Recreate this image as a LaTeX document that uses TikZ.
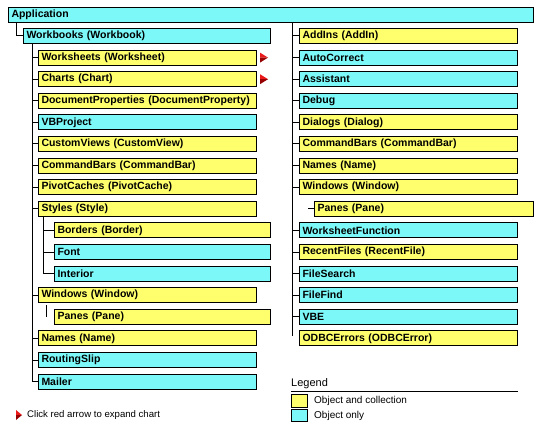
\documentclass[tikz,border=0pt]{standalone}
\usepackage{fontspec}
\setmainfont{Liberation Sans}
\definecolor{yel}{RGB}{255,255,110}
\definecolor{cya}{RGB}{125,248,248}
\definecolor{arrR}{RGB}{235,25,25}
\definecolor{arrD}{RGB}{150,0,0}
\begin{document}
\begin{tikzpicture}[x=1pt,y=-1pt,
  box/.style={draw=black, line width=1pt, anchor=north west, minimum height=15pt,
    inner xsep=3pt, inner ysep=0pt, align=left,
    font=\fontsize{10.5}{12}\selectfont\bfseries},
  yb/.style={box, fill=yel},
  cb/.style={box, fill=cya},
  wL/.style={text width=212pt},
  wS/.style={text width=210pt},
  wR/.style={text width=212pt},
  wRP/.style={text width=213pt},
  conn/.style={draw=black, line width=1pt},
  txt/.style={anchor=west, inner sep=0pt, font=\fontsize{10}{12}\selectfont}]
\fill[white] (0,0) rectangle (540,430);
\useasboundingbox (0,0) rectangle (540,430);

% top
\node[cb, text width=519pt] (app) at (8,7) {Application};
\node[cb, text width=241pt] (wb) at (23,28) {Workbooks (Workbook)};

% left column
\node[yb, wL] (ws)  at (38,49.6)  {Worksheets (Worksheet)};
\node[yb, wL] (ch)  at (38,71.2)  {Charts (Chart)};
\node[yb, wL] (dp)  at (38,92.8)  {DocumentProperties (DocumentProperty)};
\node[cb, wL] (vbp) at (38,114.4) {VBProject};
\node[yb, wL] (cv)  at (38,136)   {CustomViews (CustomView)};
\node[yb, wL] (cbl) at (38,157.6) {CommandBars (CommandBar)};
\node[yb, wL] (pc)  at (38,179.2) {PivotCaches (PivotCache)};
\node[yb, wL] (st)  at (38,200.8) {Styles (Style)};
\node[yb, wS] (bo)  at (54,222.4) {Borders (Border)};
\node[cb, wS] (fo)  at (54,244)   {Font};
\node[cb, wS] (in)  at (54,265.6) {Interior};
\node[yb, wL] (lw)  at (38,287.2) {Windows (Window)};
\node[yb, wS] (lp)  at (54,308.8) {Panes (Pane)};
\node[yb, wL] (ln)  at (38,330.4) {Names (Name)};
\node[cb, wL] (rs)  at (38,352)   {RoutingSlip};
\node[cb, wL] (ma)  at (38,373.6) {Mailer};

% right column
\node[yb, wR] (ai)  at (299,28)    {AddIns (AddIn)};
\node[cb, wR] (ac)  at (299,49.6)  {AutoCorrect};
\node[cb, wR] (as)  at (299,71.2)  {Assistant};
\node[cb, wR] (db)  at (299,92.8)  {Debug};
\node[yb, wR] (dl)  at (299,114.4) {Dialogs (Dialog)};
\node[yb, wR] (cbr) at (299,136)   {CommandBars (CommandBar)};
\node[yb, wR] (rn)  at (299,157.6) {Names (Name)};
\node[yb, wR] (rw)  at (299,179.2) {Windows (Window)};
\node[yb, wRP] (rp) at (314,200.8) {Panes (Pane)};
\node[cb, wR] (wf)  at (299,222.4) {WorksheetFunction};
\node[yb, wR] (rf)  at (299,244)   {RecentFiles (RecentFile)};
\node[cb, wR] (fs)  at (299,265.6) {FileSearch};
\node[cb, wR] (ff)  at (299,287.2) {FileFind};
\node[cb, wR] (vbe) at (299,308.8) {VBE};
\node[yb, wR] (od)  at (299,330.4) {ODBCErrors (ODBCError)};

% connectors
\draw[conn] ([xshift=8pt]app.south west) |- (wb.west);
\foreach \n in {ws,ch,dp,vbp,cv,cbl,pc,st,lw,ln,rs,ma}
  \draw[conn] ([xshift=9pt]wb.south west) |- (\n.west);
\foreach \n in {bo,fo,in}
  \draw[conn] ([xshift=5pt]st.south west) |- (\n.west);
\draw[conn] ([xshift=8pt,yshift=-2pt]lw.south west) -- ([xshift=-8pt]lp.west);
\foreach \n in {ai,ac,as,db,dl,cbr,rn,rw,wf,rf,fs,ff,vbe}
  \draw[conn] ([xshift=284pt]app.south west) |- (\n.west);
\draw[conn] ([xshift=284pt]app.south west) -- ([xshift=-7pt,yshift=-6pt]od.north west);
\draw[conn] ([xshift=-6pt]rp.west) -- (rp.west);

% red expand arrows
\foreach \n in {ws,ch}{
  \fill[arrR] ([xshift=3pt,yshift=5pt]\n.east) -- ([xshift=11pt]\n.east) -- ([xshift=3pt]\n.east) -- cycle;
  \fill[arrD] ([xshift=3pt]\n.east) -- ([xshift=11pt]\n.east) -- ([xshift=3pt,yshift=-5pt]\n.east) -- cycle;
}

% click note
\node[txt, font=\fontsize{9.6}{11}\selectfont] (click) at (27,415) {Click red arrow to expand chart};
\fill[arrR] ([xshift=-11pt,yshift=5pt]click.west) -- ([xshift=-5pt]click.west) -- ([xshift=-11pt]click.west) -- cycle;
\fill[arrD] ([xshift=-11pt]click.west) -- ([xshift=-5pt]click.west) -- ([xshift=-11pt,yshift=-5pt]click.west) -- cycle;

% legend
\node[anchor=base west, inner sep=0pt, font=\fontsize{11}{13}\selectfont] (leg) at (291,386) {Legend};
\draw[line width=1pt] (291,391) -- (518,391);
\node[draw=black, line width=1pt, fill=yel, anchor=north west, minimum width=16pt, minimum height=13pt, inner sep=0pt] (ly) at (291,393.5) {};
\node[draw=black, line width=1pt, fill=cya, anchor=north west, minimum width=16pt, minimum height=12pt, inner sep=0pt] (lc) at (291,409) {};
\node[txt] (lyt) at ([xshift=6pt]ly.east) {Object and collection};
\node[txt] (lct) at ([xshift=6pt]lc.east) {Object only};
\end{tikzpicture}
\end{document}
